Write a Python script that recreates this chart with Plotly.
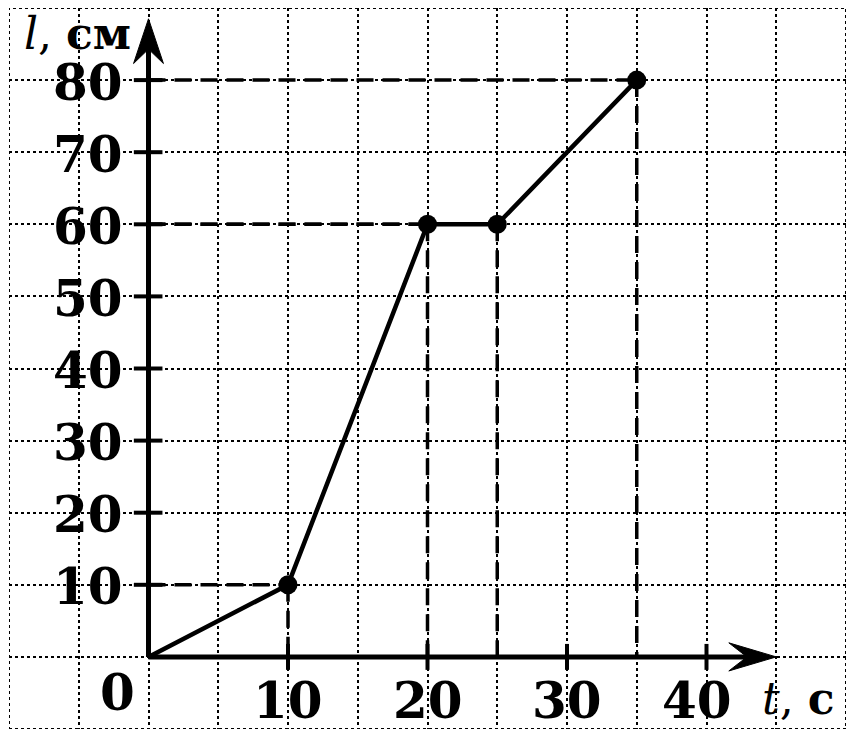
import plotly.graph_objects as go

# data
t_vals = [0, 10, 20, 25, 35]
l_vals = [0, 10, 60, 60, 80]
x_ticks = [10, 20, 30, 40]
y_ticks = [10, 20, 30, 40, 50, 60, 70, 80]
x_tick_labels = ["10", "20", "30", "40"]
y_tick_labels = ["10", "20", "30", "40", "50", "60", "70", "80"]

XMIN, XMAX, YMIN, YMAX = -10, 50, -10, 90
BLACK = "black"
fig = go.Figure()

# border (dotted)
fig.add_trace(go.Scatter(x=[XMIN, XMAX, XMAX, XMIN, XMIN], y=[YMIN, YMIN, YMAX, YMAX, YMIN],
                         mode="lines", line=dict(color=BLACK, width=2, dash="dot"),
                         hoverinfo="skip", cliponaxis=False))

# dashed projection lines
for tx, ly in zip(t_vals[1:], l_vals[1:]):
    fig.add_trace(go.Scatter(x=[0, tx], y=[ly, ly], mode="lines",
                             line=dict(color=BLACK, width=3.5, dash="17px,9px"), hoverinfo="skip"))
    fig.add_trace(go.Scatter(x=[tx, tx], y=[ly, 0], mode="lines",
                             line=dict(color=BLACK, width=3.5, dash="17px,9px"), hoverinfo="skip"))

# axes lines
fig.add_trace(go.Scatter(x=[0, 43.5], y=[0, 0], mode="lines", line=dict(color=BLACK, width=5), hoverinfo="skip"))
fig.add_trace(go.Scatter(x=[0, 0], y=[0, 85], mode="lines", line=dict(color=BLACK, width=5), hoverinfo="skip"))
# arrowheads
fig.add_trace(go.Scatter(x=[45, 41.6, 42.9, 41.6, 45], y=[0, 1.95, 0, -1.95, 0], mode="lines",
                         fill="toself", fillcolor=BLACK, line=dict(color=BLACK, width=1), hoverinfo="skip"))
fig.add_trace(go.Scatter(x=[0, -1.07, 0, 1.07, 0], y=[88.5, 82.3, 84.3, 82.3, 88.5], mode="lines",
                         fill="toself", fillcolor=BLACK, line=dict(color=BLACK, width=1), hoverinfo="skip"))

# tick marks
for yt in y_ticks:
    fig.add_trace(go.Scatter(x=[-1.05, 1.0], y=[yt, yt], mode="lines", line=dict(color=BLACK, width=4), hoverinfo="skip"))
for xt in x_ticks:
    fig.add_trace(go.Scatter(x=[xt, xt], y=[-1.8, 1.8], mode="lines", line=dict(color=BLACK, width=4), hoverinfo="skip"))

# data line
fig.add_trace(go.Scatter(x=t_vals, y=l_vals, mode="lines", line=dict(color=BLACK, width=4.5), hoverinfo="skip"))
fig.add_trace(go.Scatter(x=t_vals[1:], y=l_vals[1:], mode="markers",
                         marker=dict(color=BLACK, size=19), hoverinfo="skip", cliponaxis=False))

FONT = "DejaVu Serif"
FS = 50
ann = []
for yt, lab in zip(y_ticks, y_tick_labels):
    ann.append(dict(x=0, y=yt, text="<b>%s</b>" % lab, showarrow=False, xanchor="right", yanchor="middle",
                    xshift=-24, yshift=-2, font=dict(family=FONT, size=FS, color=BLACK)))
for xt, lab in zip(x_ticks, x_tick_labels):
    ann.append(dict(x=xt, y=0, text="<b>%s</b>" % lab, showarrow=False, xanchor="center", yanchor="middle",
                    xshift=(-10 if xt == 40 else 0), yshift=-44, font=dict(family=FONT, size=FS, color=BLACK)))
ann.append(dict(x=0, y=0, text="<b>0</b>", showarrow=False, xanchor="center", yanchor="middle",
                xshift=-31, yshift=-36, font=dict(family=FONT, size=FS, color=BLACK)))
ann.append(dict(x=0, y=0, text="<i>l</i>, <b>см</b>", showarrow=False, xanchor="right", yanchor="middle",
                xshift=-16, yshift=623, font=dict(family=FONT, size=44, color=BLACK)))
ann.append(dict(x=XMAX, y=0, text="<i>t</i>, <b>с</b>", showarrow=False, xanchor="right", yanchor="middle",
                xshift=-10, yshift=-42, font=dict(family=FONT, size=44, color=BLACK)))

# page body has an 8px margin: compensate so the plot area sits where it should
fig.update_layout(
    width=846, height=726,
    margin=dict(l=1, r=8, t=0, b=5),
    plot_bgcolor="white", paper_bgcolor="white",
    showlegend=False,
    annotations=ann,
)
fig.update_xaxes(range=[XMIN, XMAX], tickmode="linear", tick0=-10, dtick=5, showgrid=True,
                 gridcolor=BLACK, gridwidth=2, griddash="dot", zeroline=False, showticklabels=False,
                 showline=False, ticks="", fixedrange=True)
fig.update_yaxes(range=[YMIN, YMAX], tickmode="linear", tick0=-10, dtick=10, showgrid=True,
                 gridcolor=BLACK, gridwidth=2, griddash="dot", zeroline=False, showticklabels=False,
                 showline=False, ticks="", fixedrange=True)

fig.write_html("out.html")
